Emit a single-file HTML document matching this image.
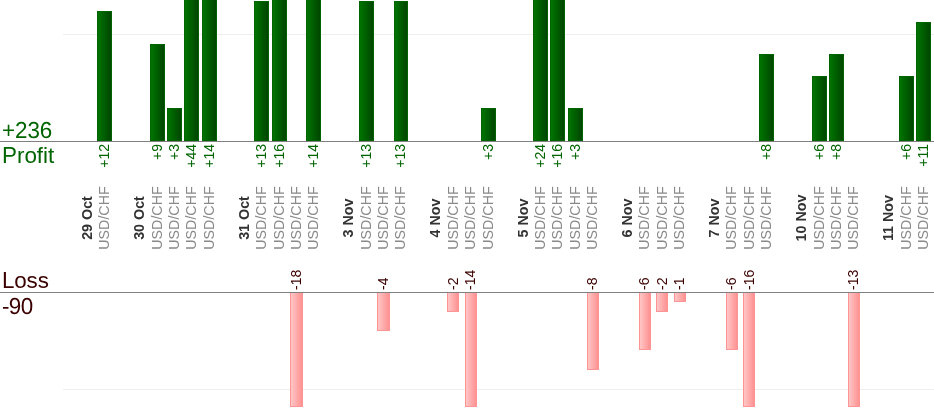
<!DOCTYPE html>
<html lang="en"><head><meta charset="utf-8"><title>Profit / Loss</title>
<style>
html,body{margin:0;padding:0;background:#fff;}
body{width:934px;height:420px;overflow:hidden;position:relative;font-family:"Liberation Sans",Arial,sans-serif;}
.g{position:absolute;left:63px;width:871px;height:1px;background:#eee;}
.ln{position:absolute;left:0;width:934px;height:1px;background:#808080;}
.pb{position:absolute;box-sizing:border-box;width:15px;border:1px solid #006400;background:linear-gradient(to right,#007400,#004600);}
.lb{position:absolute;box-sizing:border-box;width:13px;border:1px solid #ff9494;border-top:0;background:linear-gradient(to right,#ffc6c6,#ff9292);}
.t{position:absolute;white-space:nowrap;font-size:14px;line-height:16px;height:16px;transform-origin:0 0;transform:rotate(-90deg);}
.pv{color:#006400;text-align:right;width:60px;}
.lv{color:#3b0000;text-align:left;width:60px;}
.dt{color:#333;font-weight:bold;text-align:center;width:100px;font-size:14.3px;}
.sy{color:#8a8a8a;text-align:center;width:100px;font-size:14.25px;}
.big{position:absolute;left:2px;font-size:22.4px;line-height:25px;white-space:nowrap;}
.sc,.big b{transform-origin:0 20.3px;transform:rotate(0.03deg) scaleY(1.035);}
.big b{display:inline-block;font-weight:normal;}
.gr{color:#006400;}
.rd{color:#3b0000;}
</style></head>
<body>
<div class="g" style="top:34px"></div>
<div class="g" style="top:389px"></div>
<div class="t dt" style="left:79.08px;top:267.9px">29 Oct</div>
<div class="t sy" style="left:96px;top:268.15px">USD/CHF</div>
<div class="pb" style="left:97px;top:11px;width:15px;height:130px"></div>
<div class="t pv" style="left:96px;top:204px">+12</div>
<div class="t dt" style="left:131.34px;top:267.9px">30 Oct</div>
<div class="t sy" style="left:149px;top:268.15px">USD/CHF</div>
<div class="pb" style="left:150px;top:44px;width:15px;height:97px"></div>
<div class="t pv" style="left:149px;top:204px">+9</div>
<div class="t sy" style="left:166px;top:268.15px">USD/CHF</div>
<div class="pb" style="left:167px;top:108px;width:15px;height:33px"></div>
<div class="t pv" style="left:166px;top:204px">+3</div>
<div class="t sy" style="left:183px;top:268.15px">USD/CHF</div>
<div class="pb" style="left:184px;top:-9px;width:15px;height:150px"></div>
<div class="t pv" style="left:183px;top:204px">+44</div>
<div class="t sy" style="left:201px;top:268.15px">USD/CHF</div>
<div class="pb" style="left:202px;top:-9px;width:15px;height:150px"></div>
<div class="t pv" style="left:201px;top:204px">+14</div>
<div class="t dt" style="left:235.86px;top:267.9px">31 Oct</div>
<div class="t sy" style="left:253px;top:268.15px">USD/CHF</div>
<div class="pb" style="left:254px;top:1px;width:15px;height:140px"></div>
<div class="t pv" style="left:253px;top:204px">+13</div>
<div class="t sy" style="left:271px;top:268.15px">USD/CHF</div>
<div class="pb" style="left:272px;top:-9px;width:15px;height:150px"></div>
<div class="t pv" style="left:271px;top:204px">+16</div>
<div class="t sy" style="left:288px;top:268.15px">USD/CHF</div>
<div class="lb" style="left:290px;top:293px;width:13px;height:114px"></div>
<div class="t lv" style="left:288px;top:290px">-18</div>
<div class="t sy" style="left:305px;top:268.15px">USD/CHF</div>
<div class="pb" style="left:306px;top:-9px;width:15px;height:150px"></div>
<div class="t pv" style="left:305px;top:204px">+14</div>
<div class="t dt" style="left:340.38px;top:267.9px">3 Nov</div>
<div class="t sy" style="left:358px;top:268.15px">USD/CHF</div>
<div class="pb" style="left:359px;top:1px;width:15px;height:140px"></div>
<div class="t pv" style="left:358px;top:204px">+13</div>
<div class="t sy" style="left:375px;top:268.15px">USD/CHF</div>
<div class="lb" style="left:377px;top:293px;width:13px;height:38px"></div>
<div class="t lv" style="left:375px;top:290px">-4</div>
<div class="t sy" style="left:392px;top:268.15px">USD/CHF</div>
<div class="pb" style="left:394px;top:1px;width:14px;height:140px"></div>
<div class="t pv" style="left:392px;top:204px">+13</div>
<div class="t dt" style="left:427.48px;top:267.9px">4 Nov</div>
<div class="t sy" style="left:445px;top:268.15px">USD/CHF</div>
<div class="lb" style="left:447px;top:293px;width:12px;height:19px"></div>
<div class="t lv" style="left:445px;top:290px">-2</div>
<div class="t sy" style="left:462px;top:268.15px">USD/CHF</div>
<div class="lb" style="left:465px;top:293px;width:12px;height:114px"></div>
<div class="t lv" style="left:462px;top:290px">-14</div>
<div class="t sy" style="left:480px;top:268.15px">USD/CHF</div>
<div class="pb" style="left:481px;top:108px;width:15px;height:33px"></div>
<div class="t pv" style="left:480px;top:204px">+3</div>
<div class="t dt" style="left:514.58px;top:267.9px">5 Nov</div>
<div class="t sy" style="left:532px;top:268.15px">USD/CHF</div>
<div class="pb" style="left:533px;top:-9px;width:15px;height:150px"></div>
<div class="t pv" style="left:532px;top:204px">+24</div>
<div class="t sy" style="left:549px;top:268.15px">USD/CHF</div>
<div class="pb" style="left:550px;top:-9px;width:15px;height:150px"></div>
<div class="t pv" style="left:549px;top:204px">+16</div>
<div class="t sy" style="left:567px;top:268.15px">USD/CHF</div>
<div class="pb" style="left:568px;top:108px;width:15px;height:33px"></div>
<div class="t pv" style="left:567px;top:204px">+3</div>
<div class="t sy" style="left:584px;top:268.15px">USD/CHF</div>
<div class="lb" style="left:587px;top:293px;width:12px;height:77px"></div>
<div class="t lv" style="left:584px;top:290px">-8</div>
<div class="t dt" style="left:619.1px;top:267.9px">6 Nov</div>
<div class="t sy" style="left:636px;top:268.15px">USD/CHF</div>
<div class="lb" style="left:639px;top:293px;width:12px;height:57px"></div>
<div class="t lv" style="left:636px;top:290px">-6</div>
<div class="t sy" style="left:654px;top:268.15px">USD/CHF</div>
<div class="lb" style="left:656px;top:293px;width:12px;height:19px"></div>
<div class="t lv" style="left:654px;top:290px">-2</div>
<div class="t sy" style="left:671px;top:268.15px">USD/CHF</div>
<div class="lb" style="left:674px;top:293px;width:12px;height:9px"></div>
<div class="t lv" style="left:671px;top:290px">-1</div>
<div class="t dt" style="left:706.2px;top:267.9px">7 Nov</div>
<div class="t sy" style="left:723px;top:268.15px">USD/CHF</div>
<div class="lb" style="left:726px;top:293px;width:12px;height:57px"></div>
<div class="t lv" style="left:723px;top:290px">-6</div>
<div class="t sy" style="left:741px;top:268.15px">USD/CHF</div>
<div class="lb" style="left:743px;top:293px;width:12px;height:114px"></div>
<div class="t lv" style="left:741px;top:290px">-16</div>
<div class="t sy" style="left:758px;top:268.15px">USD/CHF</div>
<div class="pb" style="left:759px;top:54px;width:15px;height:87px"></div>
<div class="t pv" style="left:758px;top:204px">+8</div>
<div class="t dt" style="left:793.3px;top:267.9px">10 Nov</div>
<div class="t sy" style="left:811px;top:268.15px">USD/CHF</div>
<div class="pb" style="left:812px;top:76px;width:15px;height:65px"></div>
<div class="t pv" style="left:811px;top:204px">+6</div>
<div class="t sy" style="left:828px;top:268.15px">USD/CHF</div>
<div class="pb" style="left:829px;top:54px;width:15px;height:87px"></div>
<div class="t pv" style="left:828px;top:204px">+8</div>
<div class="t sy" style="left:845px;top:268.15px">USD/CHF</div>
<div class="lb" style="left:848px;top:293px;width:12px;height:114px"></div>
<div class="t lv" style="left:845px;top:290px">-13</div>
<div class="t dt" style="left:880.4px;top:267.9px">11 Nov</div>
<div class="t sy" style="left:898px;top:268.15px">USD/CHF</div>
<div class="pb" style="left:899px;top:76px;width:15px;height:65px"></div>
<div class="t pv" style="left:898px;top:204px">+6</div>
<div class="t sy" style="left:915px;top:268.15px">USD/CHF</div>
<div class="pb" style="left:916px;top:22px;width:15px;height:119px"></div>
<div class="t pv" style="left:915px;top:204px">+11</div>
<div class="ln" style="top:141px"></div>
<div class="ln" style="top:292px"></div>
<div class="big sc gr" style="top:117.5px;letter-spacing:-0.05px">+236</div>
<div class="big gr" style="top:143px"><b>P</b>rofit</div>
<div class="big rd" style="top:267.7px;letter-spacing:-0.15px"><b>L</b>oss</div>
<div class="big sc rd" style="top:293.7px;letter-spacing:-0.6px">-90</div>
</body></html>
